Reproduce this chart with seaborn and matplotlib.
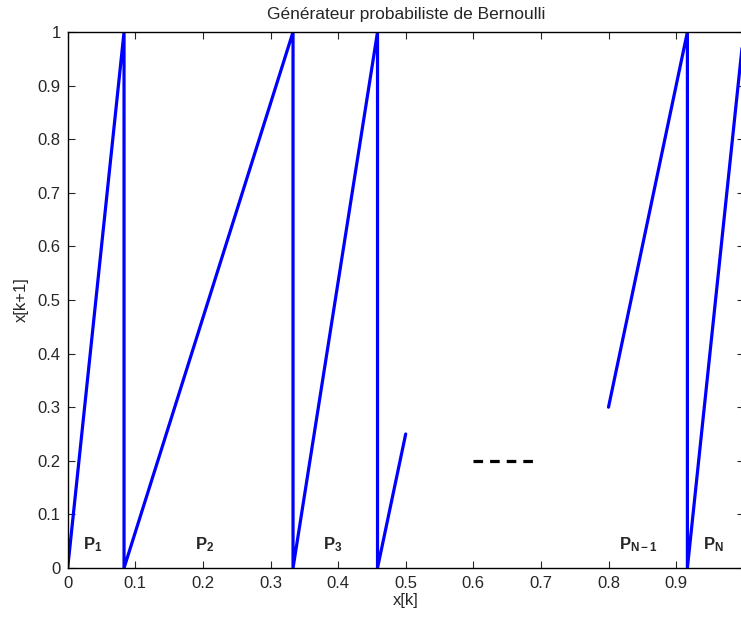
import numpy as np
import pandas as pd
import matplotlib
matplotlib.use("Agg")
import matplotlib.pyplot as plt
import seaborn as sns
from matplotlib.ticker import FuncFormatter

# ===============================
# DATA
# ===============================
# piecewise linear map, first visible block (P1, P2, P3 ...)
x_left = [0, 1/12, 1/12, 1/3, 1/3, 0.4583, 0.4583, 0.5]
y_left = [0, 1, 0, 1, 0, 1, 0, 0.25]

# last visible block (P_{N-1}, P_N)
x_right = [0.8, 0.9167, 0.9167, 1.0]
y_right = [0.3, 1, 0, 1]

# the "..." between blocks
x_dots = [0.6, 0.695]
y_dots = [0.2, 0.2]

labels = [r"$\mathbf{P_{1}}$", r"$\mathbf{P_{2}}$", r"$\mathbf{P_{3}}$",
          r"$\mathbf{P_{N-1}}$", r"$\mathbf{P_{N}}$"]
label_x = [0.022, 0.188, 0.377, 0.816, 0.940]
label_y = [0.034, 0.034, 0.034, 0.034, 0.034]

xticks = [0, 0.1, 0.2, 0.3, 0.4, 0.5, 0.6, 0.7, 0.8, 0.9, 1.0]
yticks = [0, 0.1, 0.2, 0.3, 0.4, 0.5, 0.6, 0.7, 0.8, 0.9, 1.0]

df = pd.DataFrame({
    "x": x_left + x_right,
    "y": y_left + y_right,
    "seg": [0] * len(x_left) + [1] * len(x_right),
})

# ===============================
# PLOT
# ===============================
sns.set_style("ticks")
plt.rcParams["font.family"] = ["Liberation Sans", "DejaVu Sans"]
plt.rcParams["mathtext.fontset"] = "custom"
plt.rcParams["mathtext.rm"] = "Liberation Sans"
plt.rcParams["mathtext.bf"] = "Liberation Sans:bold"
plt.rcParams["mathtext.it"] = "Liberation Sans:italic"

fig = plt.figure(figsize=(7.41, 6.19), dpi=100)
ax = fig.add_axes([67.7 / 741, 51 / 619, 676 / 741, 536 / 619])

sns.lineplot(data=df, x="x", y="y", units="seg", estimator=None, sort=False,
             color=(0, 0, 1), linewidth=2.3, ax=ax, legend=False)
ax.plot(x_dots, y_dots, color="black", linewidth=2.3, linestyle=(0, (3, 2.2)))

for lab, lx, ly in zip(labels, label_x, label_y):
    ax.text(lx, ly, lab, fontsize=12, ha="left", va="baseline")

ax.set_xlim(0, 1)
ax.set_ylim(0, 1)
ax.set_xticks(xticks)
ax.set_yticks(yticks)
# the x=1 label falls outside the cropped figure in the reference
ax.xaxis.set_major_formatter(FuncFormatter(lambda v, p: "" if v > 0.95 else "%g" % round(v, 2)))
ax.yaxis.set_major_formatter(FuncFormatter(lambda v, p: "%g" % round(v, 2)))
ax.tick_params(direction="in", length=5, width=0.8, labelsize=12,
               top=True, right=True)
ax.tick_params(axis="x", pad=6)
ax.tick_params(axis="y", pad=5)
for s in ax.spines.values():
    s.set_visible(True)
    s.set_linewidth(1.0)
    s.set_color("black")

ax.set_xlabel("x[k]", fontsize=12, labelpad=1)
ax.set_ylabel("x[k+1]", fontsize=12, labelpad=6)
ax.set_title("Générateur probabiliste de Bernoulli", fontsize=12.5, pad=9)

fig.savefig("out.png", dpi=100)
